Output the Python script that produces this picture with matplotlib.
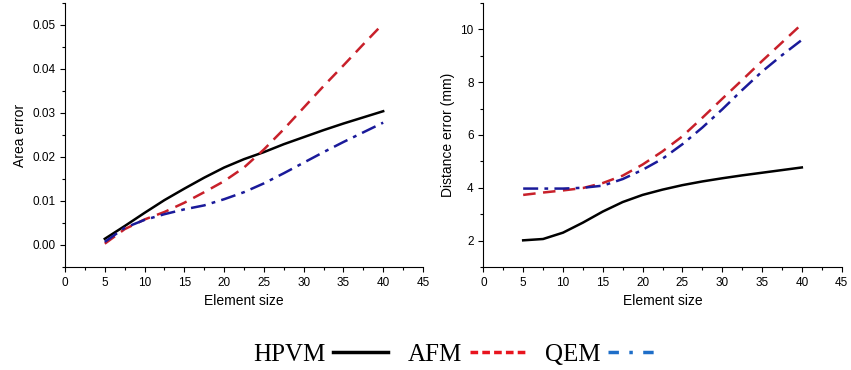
import matplotlib.pyplot as plt
from matplotlib.lines import Line2D
from matplotlib.ticker import MultipleLocator

# Element sizes (read every 2.5)
size = [5, 7.5, 10, 12.5, 15, 17.5, 20, 22.5, 25, 27.5, 30, 32.5, 35, 37.5, 40]

# Area error
area_hpvm = [0.0014, 0.0043, 0.0073, 0.0102, 0.0128, 0.0153, 0.0176, 0.0195, 0.0211,
             0.0229, 0.0245, 0.0261, 0.0276, 0.0290, 0.0304]
area_afm = [0.0003, 0.0036, 0.0058, 0.0075, 0.0096, 0.0120, 0.0145, 0.0176, 0.0217,
            0.0263, 0.0312, 0.0361, 0.0408, 0.0456, 0.0503]
area_qem = [0.0007, 0.0039, 0.0057, 0.0070, 0.0081, 0.0090, 0.0104, 0.0120, 0.0140,
            0.0163, 0.0187, 0.0211, 0.0234, 0.0256, 0.0278]

# Distance error (mm)
dist_hpvm = [2.01, 2.06, 2.30, 2.68, 3.10, 3.46, 3.73, 3.93, 4.10, 4.24, 4.36, 4.47,
             4.57, 4.67, 4.77]
dist_afm = [3.73, 3.82, 3.90, 3.99, 4.18, 4.46, 4.88, 5.38, 5.95, 6.65, 7.37, 8.08,
            8.80, 9.50, 10.20]
dist_qem = [3.97, 3.97, 3.97, 4.00, 4.08, 4.33, 4.68, 5.10, 5.65, 6.28, 6.97, 7.70,
            8.40, 9.02, 9.60]

labels = ['HPVM', 'AFM', 'QEM']
red = '#c8202a'
blue = '#1a1a9a'

plt.rcParams['font.family'] = ['Liberation Sans', 'DejaVu Sans']

fig = plt.figure(figsize=(8.51, 3.70), dpi=100)
ax1 = fig.add_axes([0.0764, 0.2784, 0.4206, 0.7136])
ax2 = fig.add_axes([0.568, 0.2784, 0.421, 0.7136])

lw = 1.8
ax1.plot(size, area_hpvm, color='black', lw=lw)
ax1.plot(size, area_afm, color=red, lw=lw, dashes=(5, 3))
ax1.plot(size, area_qem, color=blue, lw=lw, dashes=(6, 2.5, 1.5, 2.5))
ax1.set_xlim(0, 45)
ax1.set_ylim(-0.005, 0.055)
ax1.set_ylabel('Area error', fontsize=10)
ax1.yaxis.set_major_locator(MultipleLocator(0.01))
ax1.yaxis.set_minor_locator(MultipleLocator(0.005))
ax1.yaxis.set_major_formatter(lambda v, p: f'{v:.2f}')

ax2.plot(size, dist_hpvm, color='black', lw=lw)
ax2.plot(size, dist_afm, color=red, lw=lw, dashes=(5, 3))
ax2.plot(size, dist_qem, color=blue, lw=lw, dashes=(6, 2.5, 1.5, 2.5))
ax2.set_xlim(0, 45)
ax2.set_ylim(1, 11)
ax2.set_ylabel('Distance error (mm)', fontsize=10)
ax2.yaxis.set_major_locator(MultipleLocator(2))
ax2.yaxis.set_minor_locator(MultipleLocator(1))

for ax in (ax1, ax2):
    ax.spines['top'].set_visible(False)
    ax.spines['right'].set_visible(False)
    ax.set_xlabel('Element size', fontsize=10)
    ax.xaxis.set_major_locator(MultipleLocator(5))
    ax.xaxis.set_minor_locator(MultipleLocator(2.5))
    ax.tick_params(which='major', direction='out', length=3.5, width=0.8, labelsize=8.5)
    ax.tick_params(which='minor', direction='out', length=2, width=0.8)

handles = [Line2D([], [], color='black', lw=2.5),
           Line2D([], [], color='#e8141e', lw=2.5, dashes=(2.2, 1.2)),
           Line2D([], [], color='#1e6ec8', lw=2.5, dashes=(3, 3, 1, 3))]
fig.legend(handles, labels, loc='center', bbox_to_anchor=(0.538, 0.042), ncol=3,
           frameon=False, markerfirst=False, handlelength=2.2, handletextpad=0.3,
           columnspacing=0.8, prop={'family': 'Liberation Serif', 'size': 18})

fig.savefig('out.png', dpi=100)
